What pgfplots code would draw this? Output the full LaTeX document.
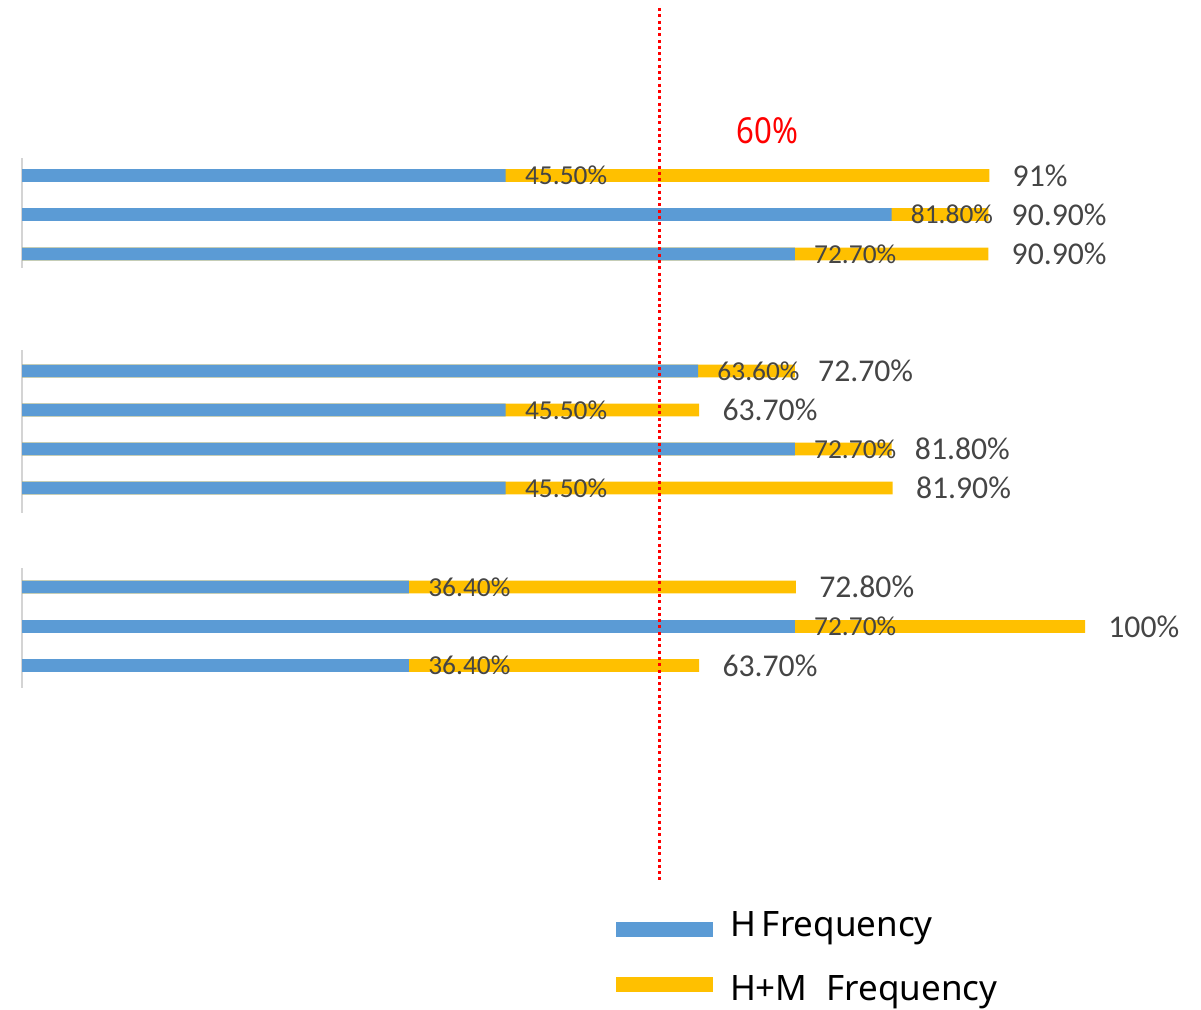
\documentclass[border=0pt]{standalone}
\usepackage{fontspec}
\setmainfont{Carlito}
\newfontfamily\legendfont{Noto Sans}
\newfontfamily\markfont[FakeStretch=0.87]{Noto Sans}
\usepackage{pgfplots}
\usepackage{pgfplotstable}
\pgfplotsset{compat=1.18}

\definecolor{hblue}{HTML}{5B9BD5}
\definecolor{hmyellow}{HTML}{FFC000}
\definecolor{labelgray}{HTML}{454545}
\definecolor{axisgray}{HTML}{D4D4D4}

% pos: vertical position of each bar (top to bottom), H and H+M frequencies in %
\pgfplotstableread{
pos   H    Hlab  HM   HMlab
175.5 45.5 45.50 91   91
214.5 81.8 81.80 90.9 90.90
254   72.7 72.70 90.9 90.90
371   63.6 63.60 72.7 72.70
410   45.5 45.50 63.7 63.70
449   72.7 72.70 81.8 81.80
488   45.5 45.50 81.9 81.90
587   36.4 36.40 72.8 72.80
626.5 72.7 72.70 100  100
665.5 36.4 36.40 63.7 63.70
}\freq

\begin{document}
\begin{tikzpicture}
\begin{axis}[
  scale only axis, width=600.5pt, height=504.5pt,
  xmin=-2.0696, xmax=110.912, ymin=0, ymax=1009, y dir=reverse,
  hide axis, clip=false,
  legend image code/.code={\path[#1, draw=none] (0pt,-3.75pt) rectangle (48.5pt,3.75pt);},
  legend cell align=left,
  legend style={at={(axis cs:55.88,908)}, anchor=north west, draw=none, fill=none,
    inner sep=0pt, outer sep=0pt, row sep=14pt,
    font=\legendfont\fontsize{17.5}{21}\selectfont,
    nodes={inner sep=0pt, text height=14pt, text depth=4pt},
    /tikz/every odd column/.append style={column sep=8.5pt}},
]
\addlegendimage{fill=hblue, yshift=-1.64pt}
\addlegendentry{H\hspace{3pt}Frequency}
\addlegendimage{fill=hmyellow, yshift=2.86pt}
\addlegendentry{H+M\hspace{9.5pt}Frequency}

% group axis segments
\addplot[axisgray, line width=1pt, forget plot] coordinates {(0,158) (0,268)};
\addplot[axisgray, line width=1pt, forget plot] coordinates {(0,350) (0,513)};
\addplot[axisgray, line width=1pt, forget plot] coordinates {(0,568) (0,688)};

% H+M bars with their end labels
\addplot[xbar, bar width=6.4pt, bar shift=0pt, fill=hmyellow, draw=none, forget plot,
  point meta=explicit symbolic,
  nodes near coords={\pgfplotspointmeta\%},
  every node near coord/.append style={anchor=west, xshift=11.5pt, inner sep=0pt,
    text=labelgray, font=\fontsize{15.85}{18}\selectfont}]
  table[x=HM, y=pos, meta=HMlab]{\freq};

% H bars drawn on top
\addplot[xbar, bar width=6.4pt, bar shift=0pt, fill=hblue, draw=none, forget plot,
  point meta=explicit symbolic,
  nodes near coords={\pgfplotspointmeta\%},
  every node near coord/.append style={anchor=west, xshift=9.5pt, inner sep=0pt,
    text=labelgray, font=\fontsize{13.7}{16}\selectfont}]
  table[x=H, y=pos, meta=Hlab]{\freq};

% 60% threshold
\addplot[red, line width=1.5pt, dash pattern=on 1.5pt off 1.65pt, forget plot]
  coordinates {(60,8) (60,882)};
\node[text=red, font=\markfont\fontsize{17.9}{21}\selectfont, inner sep=0pt]
  at (axis cs:70.13,131) {60\%};

\path (rel axis cs:0,0) rectangle (rel axis cs:1,1);
\end{axis}
\end{tikzpicture}
\end{document}
